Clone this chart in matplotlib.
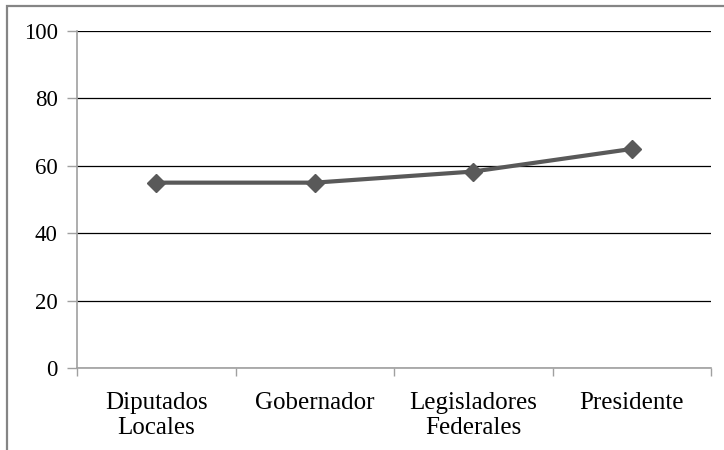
import matplotlib.pyplot as plt
from matplotlib.patches import Rectangle

CATEGORIES = ["Diputados\nLocales", "Gobernador", "Legisladores\nFederales", "Presidente"]
VALUES = [55, 55, 58.3, 65]
Y_TICKS = [0, 20, 40, 60, 80, 100]

W, H = 724, 450


def make_figure():
    plt.rcParams["font.family"] = "Liberation Serif"

    fig = plt.figure(figsize=(W / 100, H / 100), dpi=100)
    # plot area in pixel coordinates: left 77, right 711, top 31, bottom 368
    ax = fig.add_axes([77 / W, 1 - 368 / H, (711 - 77) / W, (368 - 31) / H])

    # outer chart frame, cut off at the right and bottom edges
    fig.patches.append(Rectangle((7 / W, -0.05), 1.2, 1 - 6 / H + 0.05,
                                 transform=fig.transFigure, fill=False,
                                 edgecolor="#858585", linewidth=1.6))

    x = list(range(len(CATEGORIES)))
    ax.plot(x, VALUES, color="#595959", linewidth=3, marker="D",
            markersize=9.5, markerfacecolor="#595959", markeredgecolor="#595959",
            zorder=3)

    ax.set_xlim(-0.5, len(CATEGORIES) - 0.5)
    ax.set_ylim(0, 100)
    ax.set_yticks(Y_TICKS)
    ax.set_yticklabels([str(v) for v in Y_TICKS], fontsize=16.5)

    # category labels centred between boundary ticks
    ax.set_xticks([i - 0.5 for i in range(len(CATEGORIES) + 1)])
    ax.set_xticklabels([])
    ax.set_xticks(x, minor=True)
    ax.set_xticklabels(CATEGORIES, minor=True, fontsize=18, linespacing=1.2)
    ax.tick_params(axis="x", which="minor", length=0, pad=17)
    ax.tick_params(axis="x", which="major", length=6, color="#a0a0a0", width=1)
    ax.tick_params(axis="y", length=7, color="#a0a0a0", width=1, pad=7)

    ax.yaxis.grid(True, color="#000000", linewidth=0.9)
    ax.set_axisbelow(True)
    for side in ("top", "right"):
        ax.spines[side].set_visible(False)
    for side in ("left", "bottom"):
        ax.spines[side].set_color("#a0a0a0")
        ax.spines[side].set_linewidth(1.2)

    fig.savefig("out.png", dpi=100)


if __name__ == "__main__":
    make_figure()
